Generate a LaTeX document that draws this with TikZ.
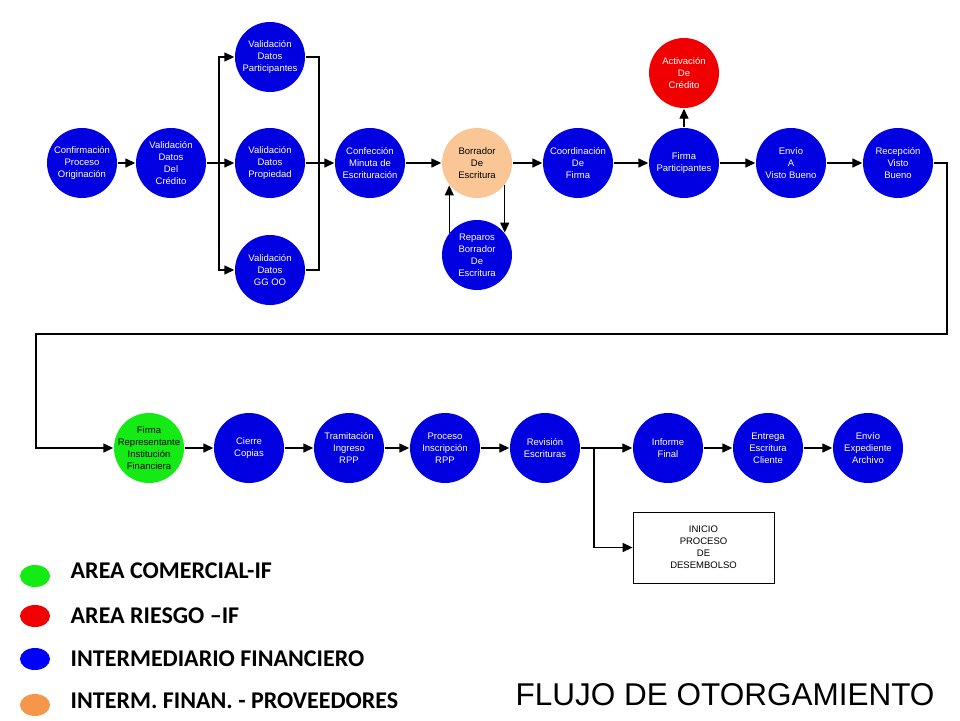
\documentclass[tikz,border=0pt]{standalone}
\usepackage{fontspec}
\setmainfont{Liberation Sans}
\newfontfamily\legfont{Carlito}
\usetikzlibrary{arrows.meta,shapes.geometric}
\definecolor{ifblue}{RGB}{0,0,225}
\definecolor{ifred}{RGB}{240,0,0}
\definecolor{ifgreen}{RGB}{20,235,20}
\definecolor{ifpeach}{RGB}{250,198,150}
\definecolor{iforange}{RGB}{245,150,75}
\begin{document}
\begin{tikzpicture}[x=1pt,y=-1pt,>={Triangle[length=10pt,width=9pt]}]
    \tikzstyle{every path}=[line width=1.4pt];
    \tikzstyle{stage}=[circle,minimum size=70pt,inner sep=-6pt,align=center,fill=ifblue,text=white,font=\fontsize{9.5}{12}\selectfont];
    \tikzstyle{legdot}=[ellipse,minimum width=30pt,minimum height=22pt,inner sep=0pt];
    \tikzstyle{legtext}=[anchor=west,inner sep=0pt,font=\legfont\bfseries\fontsize{24}{24}\selectfont];
    \useasboundingbox (0,0) rectangle (960,720);

    % primera fila
    \node at (82,163)  (conf0) [stage] {Confirmación\\Proceso\\Originación};
    \node at (171,163) (cred)  [stage] {Validación\\Datos\\Del\\Crédito};
    \node at (270,57)  (part)  [stage] {Validación\\Datos\\Participantes};
    \node at (270,163) (prop)  [stage] {Validación\\Datos\\Propiedad};
    \node at (270,270) (ggoo)  [stage] {Validación\\Datos\\GG OO};
    \node at (370,163) (minu)  [stage] {Confección\\Minuta de\\Escrituración};
    \node at (477,163) (borr)  [stage,fill=ifpeach,text=black] {Borrador\\De\\Escritura};
    \node at (477,255) (repa)  [stage] {Reparos\\Borrador\\De\\Escritura};
    \node at (578,163) (coord) [stage] {Coordinación\\De\\Firma};
    \node at (684,163) (fpart) [stage] {Firma\\Participantes};
    \node at (684,73)  (activ) [stage,fill=ifred] {Activación\\De\\Crédito};
    \node at (791,163) (envio) [stage] {Envío\\A\\Visto Bueno};
    \node at (898,163) (recep) [stage] {Recepción\\Visto\\Bueno};

    % segunda fila
    \node at (149,448) (frep)  [stage,fill=ifgreen,text=black] {Firma\\Representante\\Institución\\Financiera};
    \node at (249,448) (cierre) [stage] {Cierre\\Copias};
    \node at (349,448) (tram)  [stage] {Tramitación\\Ingreso\\RPP};
    \node at (445,448) (insc)  [stage] {Proceso\\Inscripción\\RPP};
    \node at (545,448) (revi)  [stage] {Revisión\\Escrituras};
    \node at (668,448) (info)  [stage] {Informe\\Final};
    \node at (768,448) (entr)  [stage] {Entrega\\Escritura\\Cliente};
    \node at (868,448) (exped) [stage] {Envío\\Expediente\\Archivo};
    \node at (703.5,547.5) (desem) [draw,line width=0.8pt,minimum width=141pt,minimum height=71pt,align=center,font=\fontsize{9.5}{12}\selectfont] {INICIO\\PROCESO\\DE\\DESEMBOLSO};

    \coordinate (fk) at (219,163);
    \coordinate (mg) at (319,163);
    \coordinate (r1) at (947,334);
    \coordinate (r2) at (36,334);
    \coordinate (rb) at (594,448);

    \draw[->] (conf0) -- (cred);
    \draw (cred) -- (fk);
    \draw[->] (fk) |- (part);
    \draw[->] (fk) -- (prop);
    \draw[->] (fk) |- (ggoo);
    \draw (part) -| (mg);
    \draw (ggoo) -| (mg);
    \draw[->] (prop) -- (minu);
    \draw[->] (minu) -- (borr);
    \draw[->] (borr.-39) -- (repa.39);
    \draw[->] (repa.141) -- (borr.-141);
    \draw[->] (borr) -- (coord);
    \draw[->] (coord) -- (fpart);
    \draw[->] (fpart) -- (activ);
    \draw[->] (fpart) -- (envio);
    \draw[->] (envio) -- (recep);
    \draw[->] (recep) -| (r1) -- (r2) |- (frep);
    \draw[->] (frep) -- (cierre);
    \draw[->] (cierre) -- (tram);
    \draw[->] (tram) -- (insc);
    \draw[->] (insc) -- (revi);
    \draw[->] (revi) -- (info);
    \draw[->] (rb) |- (desem);
    \draw[->] (info) -- (entr);
    \draw[->] (entr) -- (exped);

    % leyenda
    \node at (35,576) (dcom) [legdot,fill=ifgreen] {};
    \node at (35,616) (drie) [legdot,fill=ifred] {};
    \node at (35,659) (dint) [legdot,fill=blue] {};
    \node at (35,705) (dpro) [legdot,fill=iforange] {};
    \node at (70,571) (lcom) [legtext] {AREA COMERCIAL-IF};
    \node at (70,616) (lrie) [legtext] {AREA RIESGO –IF};
    \node at (70,659) (lint) [legtext] {INTERMEDIARIO FINANCIERO};
    \node at (70,701) (lpro) [legtext] {INTERM. FINAN. - PROVEEDORES};

    \node at (725,695) (titulo) [inner sep=0pt,font=\fontsize{31.5}{31.5}\selectfont] {FLUJO DE OTORGAMIENTO};
\end{tikzpicture}
\end{document}
